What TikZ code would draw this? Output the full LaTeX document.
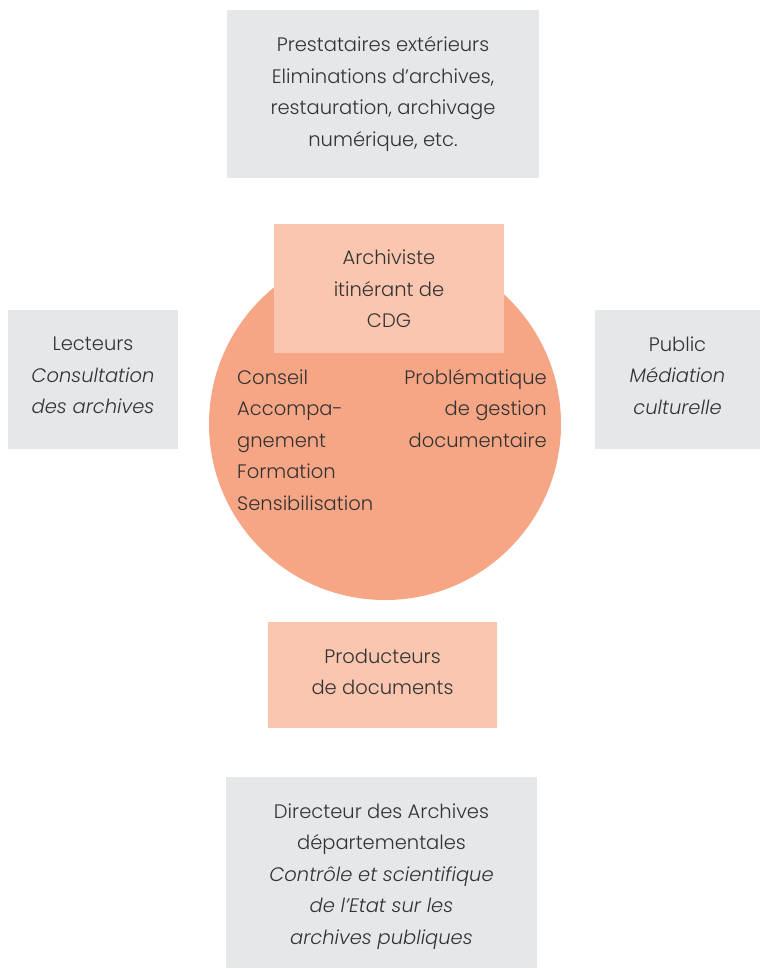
\documentclass[tikz,border=0pt]{standalone}
\usepackage{fontspec}
\setmainfont{Poppins}[UprightFont=* Light, ItalicFont=* Light Italic]
\definecolor{boxgray}{HTML}{E6E7E9}
\definecolor{salmonlight}{HTML}{FAC6AF}
\definecolor{salmon}{HTML}{F6A585}
\definecolor{txt}{HTML}{333333}
\begin{document}
\begin{tikzpicture}[x=1pt,y=-1pt,
  every node/.style={text=txt,font=\fontsize{19.5}{31.5}\selectfont,inner sep=0pt},
  graybox/.style={fill=boxgray},
  pinkbox/.style={fill=salmonlight},
  lbl/.style={align=center},
  disc/.style={circle,fill=salmon,minimum size=352pt}]
\useasboundingbox (0,0) rectangle (760,969);
% boxes
\node[graybox,minimum width=312pt,minimum height=168pt] (prest) at (383,94) {};
\node[disc] (cercle) at (385,424) {};
\node[pinkbox,minimum width=230pt,minimum height=129pt] (arch) at (389,288.5) {};
\node[graybox,minimum width=170pt,minimum height=139pt] (lect) at (93,379.5) {};
\node[graybox,minimum width=165pt,minimum height=139pt] (pub) at (677.5,379.5) {};
\node[pinkbox,minimum width=229pt,minimum height=106pt] (prod) at (382.5,675) {};
\node[graybox,minimum width=311pt,minimum height=191pt] (dir) at (381.5,872.5) {};
% texts
\node[lbl] (prestT) at (383,94)
  {Prestataires extérieurs\\Eliminations d’archives,\\restauration, archivage\\numérique, etc.};
\node[lbl] (archT) at (389,289) {Archiviste\\itinérant de\\CDG};
\node[anchor=north west,align=left] (conseil) at (237,369.5)
  {Conseil\\Accompa-\\gnement\\Formation\\Sensibilisation};
\node[anchor=north east,align=right] (probl) at (547,369)
  {Problématique\\de gestion\\documentaire};
\node[lbl] (lectT) at (93,375.5) {Lecteurs\\\textit{Consultation}\\\textit{des archives}};
\node[lbl] (pubT) at (677.5,375.5) {Public\\\textit{Médiation}\\\textit{culturelle}};
\node[lbl] (prodT) at (382.5,672) {Producteurs\\de documents};
\node[lbl] (dirT) at (381.5,876.5)
  {Directeur des Archives\\départementales\\\textit{Contrôle et scientifique}\\\textit{de l’Etat sur les}\\\textit{archives publiques}};
\end{tikzpicture}
\end{document}
